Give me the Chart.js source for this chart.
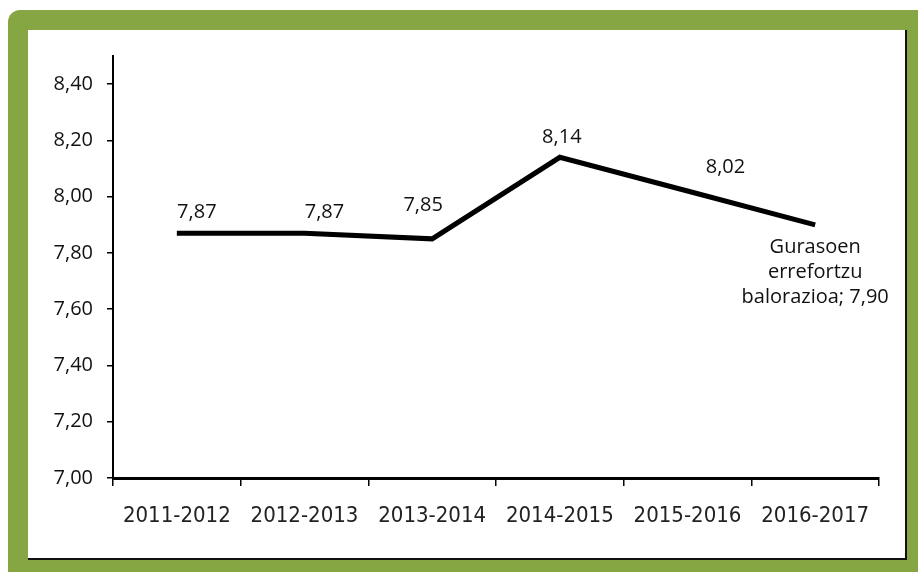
<!DOCTYPE html>
<html>
<head>
<meta charset="utf-8">
<script src="https://cdn.jsdelivr.net/npm/chart.js@4.4.0/dist/chart.umd.min.js"></script>
<style>
  html, body { margin: 0; padding: 0; background: #fff; }
  body { width: 918px; height: 572px; position: relative; overflow: hidden; }
  .frame {
    position: absolute; left: 8px; top: 10px; width: 910px; height: 562px;
    background: #86a543; border-top-left-radius: 12px;
  }
  .inner {
    position: absolute; left: 28px; top: 30px; width: 877px; height: 528px;
    background: #fff; border-right: 2px solid #111; border-bottom: 2px solid #111;
  }
  #myChart { position: absolute; left: 0; top: 0; }
</style>
</head>
<body>
<div class="frame"></div>
<div class="inner">
  <canvas id="myChart" width="877" height="528"></canvas>
</div>
<script>
const labels = ['2011-2012', '2012-2013', '2013-2014', '2014-2015', '2015-2016', '2016-2017'];
const values = [7.87, 7.87, 7.85, 8.14, 8.02, 7.90];
const seriesName = 'Gurasoen errefortzu balorazioa';
const yTicks = [7.0, 7.2, 7.4, 7.6, 7.8, 8.0, 8.2, 8.4];

// where Excel put each data label, relative to its point
const labelOffsets = [[20, -21], [20, -21], [-9, -34], [2, -20], [38, -24], [0, 22]];

const fmt = v => v.toFixed(2).replace('.', ',');

const dataLabels = {
    id: 'dataLabels',
    afterDatasetsDraw(chart) {
        const ctx = chart.ctx;
        const meta = chart.getDatasetMeta(0);
        ctx.save();
        ctx.fillStyle = '#111';
        ctx.font = '20px "Open Sans", sans-serif';
        ctx.textAlign = 'center';
        ctx.textBaseline = 'middle';
        meta.data.forEach((pt, i) => {
            const [dx, dy] = labelOffsets[i];
            const x = pt.x + dx, y = pt.y + dy;
            if (i === values.length - 1) {
                const lines = ['Gurasoen', 'errefortzu', 'balorazioa; ' + fmt(values[i])];
                lines.forEach((t, j) => ctx.fillText(t, x, y + j * 25));
            } else {
                ctx.fillText(fmt(values[i]), x, y);
            }
        });
        ctx.restore();
    }
};

const cts = document.querySelector('#myChart').getContext('2d');

const config = {
    type: 'line',
    data: {
        labels,
        datasets: [{
            label: seriesName,
            data: values,
            borderColor: '#000',
            borderWidth: 5,
            pointRadius: 0,
            tension: 0,
            fill: false,
        }]
    },
    options: {
        responsive: false,
        animation: false,
        layout: { padding: { left: 0, top: 26, right: 26, bottom: 0 } },
        plugins: {
            legend: { display: false },
            tooltip: { enabled: false },
        },
        scales: {
            x: {
                offset: true,
                grid: { offset: true, drawOnChartArea: false, drawTicks: true, tickLength: 8, color: '#000', lineWidth: 1.5 },
                border: { color: '#000', width: 3 },
                ticks: {
                    color: '#222',
                    padding: 17,
                    maxRotation: 0,
                    font: { family: '"DejaVu Sans Condensed", sans-serif', size: 22 },
                },
                afterFit(scale) { scale.height = 80; },
            },
            y: {
                min: 7,
                max: 8.5,
                afterBuildTicks(scale) {
                    scale.ticks = yTicks.map(v => ({ value: v }));
                },
                grid: { drawOnChartArea: false, drawTicks: true, tickLength: 6, color: '#000', lineWidth: 1.5 },
                border: { color: '#000', width: 2 },
                ticks: {
                    color: '#111',
                    padding: 14,
                    font: { family: '"Open Sans", sans-serif', size: 20 },
                    callback: function (value) {
                        return fmt(value);
                    }
                },
                afterFit(scale) { scale.width = 85; },
            }
        }
    },
    plugins: [dataLabels]
};

const myChart = new Chart(cts, config);
</script>
</body>
</html>
